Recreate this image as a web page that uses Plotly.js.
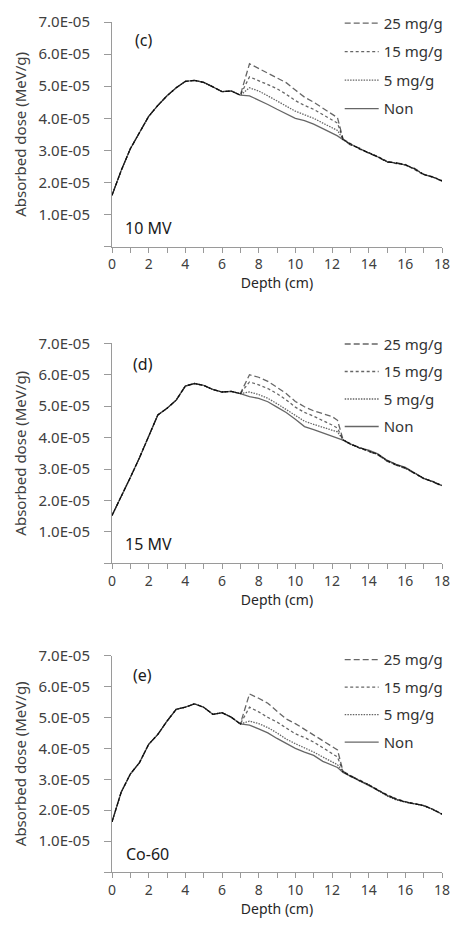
<!DOCTYPE html>
<html><head><meta charset="utf-8">
<script src="https://cdn.plot.ly/plotly-3.0.1.min.js"></script>
<style>html,body{margin:0;padding:0;background:#fff}#chart{width:456px;height:929px}</style>
</head><body><div id="chart"></div>
<script>
const depth = [0,0.5,1,1.5,2,2.5,3,3.5,4,4.5,5,5.5,6,6.5,7,7.5,8,8.5,9,9.5,10,10.5,11,11.5,12,12.3,12.6,13,13.5,14,14.5,15,15.5,16,16.5,17,17.5,18];

// Panel (c) 10 MV
const c_non = [1.60e-5,2.37e-5,3.05e-5,3.55e-5,4.06e-5,4.40e-5,4.70e-5,4.95e-5,5.15e-5,5.18e-5,5.12e-5,4.98e-5,4.83e-5,4.85e-5,4.72e-5,4.70e-5,4.57e-5,4.43e-5,4.28e-5,4.14e-5,4.00e-5,3.93e-5,3.82e-5,3.68e-5,3.55e-5,3.45e-5,3.33e-5,3.20e-5,3.05e-5,2.92e-5,2.80e-5,2.65e-5,2.60e-5,2.55e-5,2.42e-5,2.25e-5,2.17e-5,2.05e-5];
const c_5 = [1.60e-5,2.37e-5,3.05e-5,3.55e-5,4.06e-5,4.40e-5,4.70e-5,4.95e-5,5.15e-5,5.18e-5,5.12e-5,4.98e-5,4.83e-5,4.85e-5,4.72e-5,4.95e-5,4.85e-5,4.70e-5,4.55e-5,4.38e-5,4.22e-5,4.12e-5,4.00e-5,3.85e-5,3.72e-5,3.62e-5,3.34e-5,3.18e-5,3.06e-5,2.93e-5,2.79e-5,2.64e-5,2.61e-5,2.54e-5,2.43e-5,2.26e-5,2.16e-5,2.06e-5];
const c_15 = [1.60e-5,2.37e-5,3.05e-5,3.55e-5,4.06e-5,4.40e-5,4.70e-5,4.95e-5,5.15e-5,5.18e-5,5.12e-5,4.98e-5,4.83e-5,4.85e-5,4.72e-5,5.29e-5,5.18e-5,5.05e-5,4.92e-5,4.75e-5,4.55e-5,4.40e-5,4.28e-5,4.12e-5,3.95e-5,3.85e-5,3.35e-5,3.21e-5,3.04e-5,2.93e-5,2.81e-5,2.66e-5,2.59e-5,2.56e-5,2.41e-5,2.24e-5,2.18e-5,2.05e-5];
const c_25 = [1.60e-5,2.37e-5,3.05e-5,3.55e-5,4.06e-5,4.40e-5,4.70e-5,4.95e-5,5.15e-5,5.18e-5,5.12e-5,4.98e-5,4.83e-5,4.85e-5,4.72e-5,5.70e-5,5.55e-5,5.40e-5,5.26e-5,5.11e-5,4.88e-5,4.66e-5,4.50e-5,4.32e-5,4.12e-5,4.02e-5,3.36e-5,3.17e-5,3.07e-5,2.91e-5,2.80e-5,2.63e-5,2.62e-5,2.55e-5,2.44e-5,2.25e-5,2.17e-5,2.04e-5];

// Panel (d) 15 MV
const d_non = [1.52e-5,2.10e-5,2.73e-5,3.36e-5,4.04e-5,4.72e-5,4.93e-5,5.19e-5,5.64e-5,5.72e-5,5.66e-5,5.53e-5,5.45e-5,5.47e-5,5.40e-5,5.30e-5,5.25e-5,5.14e-5,4.97e-5,4.80e-5,4.58e-5,4.35e-5,4.25e-5,4.15e-5,4.05e-5,3.98e-5,3.92e-5,3.80e-5,3.67e-5,3.60e-5,3.48e-5,3.28e-5,3.15e-5,3.05e-5,2.88e-5,2.70e-5,2.60e-5,2.47e-5];
const d_5 = [1.52e-5,2.10e-5,2.73e-5,3.36e-5,4.04e-5,4.72e-5,4.93e-5,5.19e-5,5.64e-5,5.72e-5,5.66e-5,5.53e-5,5.45e-5,5.47e-5,5.40e-5,5.45e-5,5.37e-5,5.25e-5,5.08e-5,4.90e-5,4.70e-5,4.52e-5,4.42e-5,4.33e-5,4.25e-5,4.18e-5,3.93e-5,3.78e-5,3.68e-5,3.58e-5,3.46e-5,3.26e-5,3.13e-5,3.03e-5,2.86e-5,2.71e-5,2.59e-5,2.48e-5];
const d_15 = [1.52e-5,2.10e-5,2.73e-5,3.36e-5,4.04e-5,4.72e-5,4.93e-5,5.19e-5,5.64e-5,5.72e-5,5.66e-5,5.53e-5,5.45e-5,5.47e-5,5.40e-5,5.77e-5,5.68e-5,5.56e-5,5.40e-5,5.20e-5,4.97e-5,4.80e-5,4.68e-5,4.55e-5,4.40e-5,4.30e-5,3.93e-5,3.81e-5,3.66e-5,3.57e-5,3.47e-5,3.27e-5,3.14e-5,3.04e-5,2.87e-5,2.69e-5,2.61e-5,2.47e-5];
const d_25 = [1.52e-5,2.10e-5,2.73e-5,3.36e-5,4.04e-5,4.72e-5,4.93e-5,5.19e-5,5.64e-5,5.72e-5,5.66e-5,5.53e-5,5.45e-5,5.47e-5,5.40e-5,6.00e-5,5.92e-5,5.79e-5,5.60e-5,5.40e-5,5.15e-5,4.98e-5,4.85e-5,4.76e-5,4.67e-5,4.55e-5,3.94e-5,3.79e-5,3.69e-5,3.56e-5,3.45e-5,3.25e-5,3.12e-5,3.02e-5,2.86e-5,2.70e-5,2.59e-5,2.46e-5];

// Panel (e) Co-60
const e_non = [1.62e-5,2.58e-5,3.17e-5,3.54e-5,4.13e-5,4.45e-5,4.88e-5,5.26e-5,5.33e-5,5.44e-5,5.33e-5,5.10e-5,5.15e-5,5.01e-5,4.79e-5,4.75e-5,4.63e-5,4.50e-5,4.32e-5,4.15e-5,4.00e-5,3.88e-5,3.77e-5,3.58e-5,3.45e-5,3.38e-5,3.22e-5,3.10e-5,2.97e-5,2.82e-5,2.65e-5,2.48e-5,2.35e-5,2.27e-5,2.21e-5,2.15e-5,2.03e-5,1.87e-5];
const e_5 = [1.62e-5,2.58e-5,3.17e-5,3.54e-5,4.13e-5,4.45e-5,4.88e-5,5.26e-5,5.33e-5,5.44e-5,5.33e-5,5.10e-5,5.15e-5,5.01e-5,4.79e-5,4.88e-5,4.80e-5,4.67e-5,4.50e-5,4.30e-5,4.15e-5,4.02e-5,3.88e-5,3.72e-5,3.55e-5,3.47e-5,3.24e-5,3.11e-5,2.95e-5,2.83e-5,2.64e-5,2.46e-5,2.33e-5,2.26e-5,2.20e-5,2.14e-5,2.02e-5,1.87e-5];
const e_15 = [1.62e-5,2.58e-5,3.17e-5,3.54e-5,4.13e-5,4.45e-5,4.88e-5,5.26e-5,5.33e-5,5.44e-5,5.33e-5,5.10e-5,5.15e-5,5.01e-5,4.79e-5,5.33e-5,5.18e-5,5.00e-5,4.85e-5,4.65e-5,4.47e-5,4.35e-5,4.20e-5,4.02e-5,3.82e-5,3.72e-5,3.25e-5,3.09e-5,2.98e-5,2.81e-5,2.66e-5,2.50e-5,2.37e-5,2.28e-5,2.21e-5,2.15e-5,2.03e-5,1.88e-5];
const e_25 = [1.62e-5,2.58e-5,3.17e-5,3.54e-5,4.13e-5,4.45e-5,4.88e-5,5.26e-5,5.33e-5,5.44e-5,5.33e-5,5.10e-5,5.15e-5,5.01e-5,4.79e-5,5.76e-5,5.62e-5,5.46e-5,5.20e-5,4.95e-5,4.80e-5,4.62e-5,4.42e-5,4.25e-5,4.06e-5,3.95e-5,3.26e-5,3.12e-5,2.96e-5,2.82e-5,2.64e-5,2.49e-5,2.38e-5,2.25e-5,2.20e-5,2.16e-5,2.02e-5,1.87e-5];

const seriesNames = ['25 mg/g','15 mg/g','5 mg/g','Non'];
const panelLabels = ['(c)','(d)','(e)'];
const sourceLabels = ['10 MV','15 MV','Co-60'];
const yTickVals = [0,1e-5,2e-5,3e-5,4e-5,5e-5,6e-5,7e-5];
const yTickText = ['','1.0E-05','2.0E-05','3.0E-05','4.0E-05','5.0E-05','6.0E-05','7.0E-05'];
const xTickVals = [0,2,4,6,8,10,12,14,16,18];

const panels = [[c_25,c_15,c_5,c_non],[d_25,d_15,d_5,d_non],[e_25,e_15,e_5,e_non]];
const dashes = ['6px,3px','3px,2.5px','1.5px,1.2px','solid'];
const lineColor = 'rgba(0,0,0,0.6)';

const traces = [];
panels.forEach((sets, p) => {
  const ax = p === 0 ? '' : String(p+1);
  sets.forEach((vals, i) => {
    traces.push({
      x: depth, y: vals, type: 'scatter', mode: 'lines',
      name: seriesNames[i],
      xaxis: 'x'+ax, yaxis: 'y'+ax,
      legend: p === 0 ? 'legend' : 'legend'+(p+1),
      legendgroup: 'p'+p+'g'+i,
      line: {color: lineColor, width: 1.3, dash: dashes[i]},
      hoverinfo: 'skip'
    });
  });
});

const FONT = 'Noto Sans, sans-serif';
const axisCommon = {
  showline: true, linecolor: '#9a9a9a', linewidth: 1,
  ticks: 'outside', tickcolor: '#9a9a9a', showgrid: false, zeroline: false,
  ticklabeloverflow: 'allow'
};
function xAxis(anchor) {
  return Object.assign({}, axisCommon, {
    anchor: anchor, range: [0, 18], tickvals: xTickVals, ticklen: 5,
    tickfont: {family: FONT, size: 14, color: '#404040'},
    minor: {dtick: 1, ticks: 'outside', ticklen: 5, tickcolor: '#9a9a9a', showgrid: false},
    title: {text: 'Depth (cm)', font: {family: FONT, size: 14, color: '#262626'}, standoff: 5}
  });
}
function yAxis(anchor, dom) {
  return Object.assign({}, axisCommon, {
    anchor: anchor, domain: dom, range: [0, 7e-5], tickvals: yTickVals, ticktext: yTickText, ticklen: 7,
    tickfont: {family: FONT, size: 15, color: '#404040'},
    ticklabelstandoff: 11,
    title: {text: 'Absorbed dose (MeV/g)', font: {family: FONT, size: 15, color: '#404040'}, standoff: 8}
  });
}
function legendAt(y, gap) {
  return {x: 0.69, y: y, xanchor: 'left', yanchor: 'top', bgcolor: 'rgba(0,0,0,0)', itemwidth: 34,
    font: {family: FONT, size: 15, color: '#333333'}, tracegroupgap: gap, traceorder: 'grouped'};
}

// annotation positions in data units (depth cm, dose)
const labelX = [1.71, 1.71, 1.66];
const labelY = [6.45e-5, 6.35e-5, 6.38e-5];
const srcX = [1.98, 2.0, 1.96];
const srcY = [0.58e-5, 0.6e-5, 0.58e-5];
const annotations = [];
for (let p = 0; p < 3; p++) {
  const ax = p === 0 ? '' : String(p+1);
  annotations.push({text: panelLabels[p], xref: 'x'+ax, yref: 'y'+ax, x: labelX[p], y: labelY[p], showarrow: false,
    xanchor: 'center', yanchor: 'middle', font: {family: FONT, size: 16, color: '#1a1a1a'}});
  annotations.push({text: sourceLabels[p], xref: 'x'+ax, yref: 'y'+ax, x: srcX[p], y: srcY[p], showarrow: false,
    xanchor: 'center', yanchor: 'middle', font: {family: FONT, size: 16, color: '#1a1a1a'}});
}

const layout = {
  width: 456, height: 929,
  margin: {l: 112, r: 7, t: 13, b: 57},
  paper_bgcolor: '#fff', plot_bgcolor: '#fff',
  showlegend: true,
  xaxis: xAxis('y'), yaxis: yAxis('x', [0.7357, 1.0]),
  xaxis2: xAxis('y2'), yaxis2: yAxis('x2', [0.3632, 0.6220]),
  xaxis3: xAxis('y3'), yaxis3: yAxis('x3', [0.0, 0.2546]),
  legend: legendAt(1.0178, 6), legend2: legendAt(0.6403, 5), legend3: legendAt(0.269, 5),
  annotations: annotations
};
Plotly.newPlot('chart', traces, layout, {displayModeBar: false, staticPlot: true});
</script></body></html>
